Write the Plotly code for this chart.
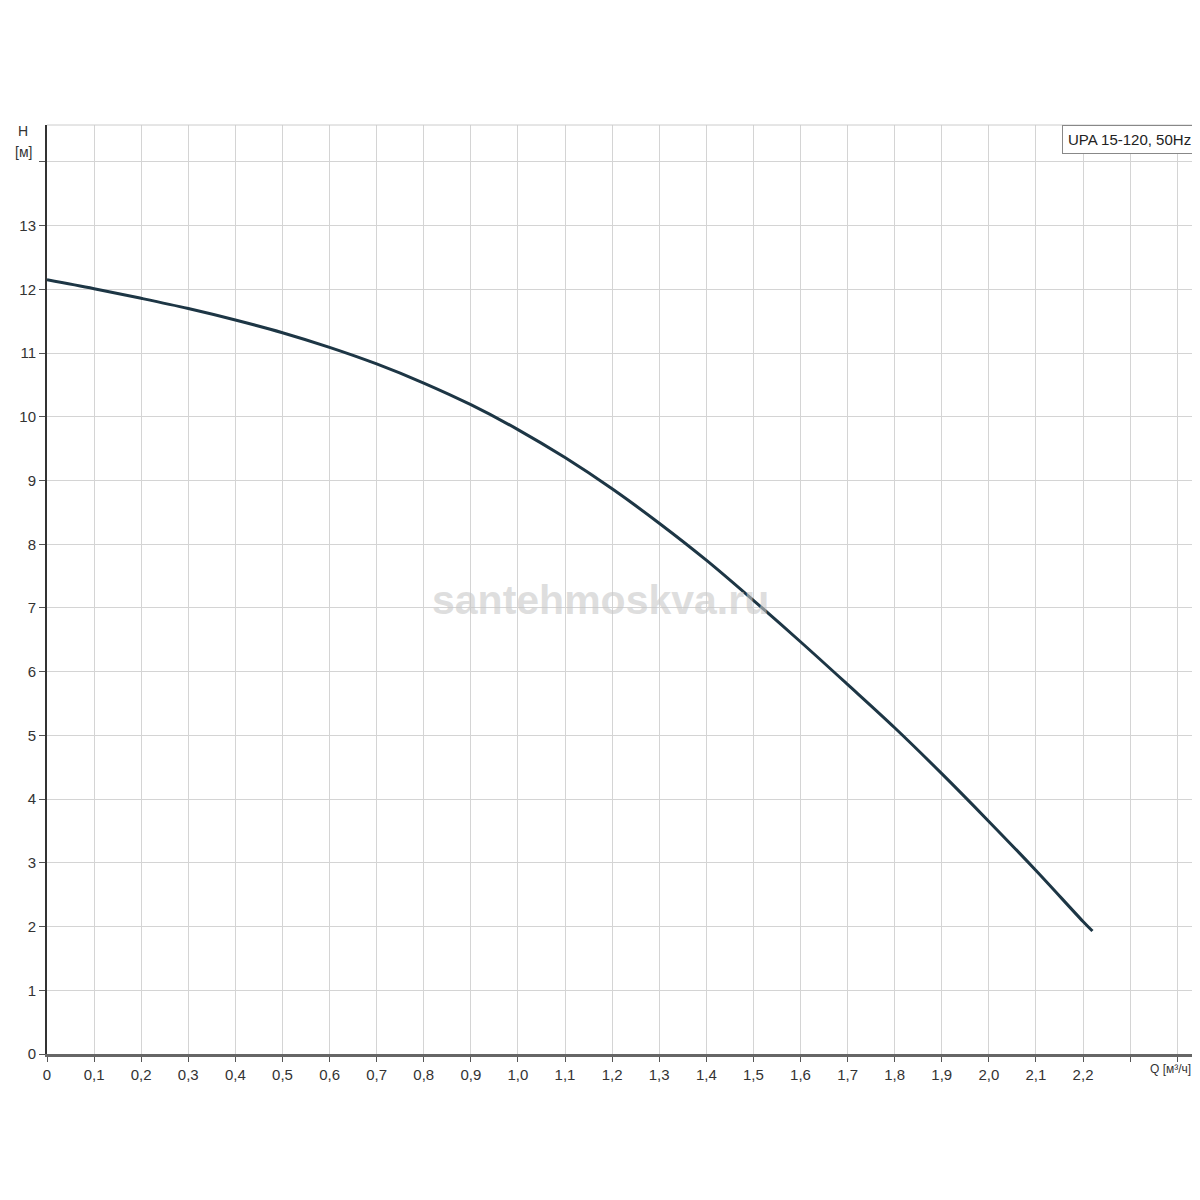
import plotly.graph_objects as go

# Pump curve UPA 15-120, 50Hz
Q = [0.0, 0.1, 0.2, 0.3, 0.4, 0.5, 0.6, 0.7, 0.8, 0.9, 1.0, 1.1, 1.2, 1.3, 1.4,
     1.5, 1.6, 1.7, 1.8, 1.9, 2.0, 2.1, 2.2, 2.22]
H = [12.15, 12.01, 11.86, 11.70, 11.52, 11.32, 11.09, 10.83, 10.53, 10.19, 9.80,
     9.36, 8.87, 8.33, 7.75, 7.12, 6.47, 5.80, 5.12, 4.40, 3.65, 2.88, 2.08, 1.93]

x_tickvals = [i / 10 for i in range(0, 25)]
x_ticktext = ["0"] + [f"{v:.1f}".replace(".", ",") for v in x_tickvals[1:23]] + ["", ""]
y_tickvals = list(range(0, 15))
y_ticktext = [str(v) for v in range(0, 14)] + [""]

series_name = "UPA 15-120, 50Hz"
x_title = "Q [м³/ч]"
y_title_1 = "H"
y_title_2 = "[м]"
watermark = "santehmoskva.ru"

font_family = "Liberation Sans, Arial, sans-serif"

fig = go.Figure()
fig.add_trace(go.Scatter(
    x=Q, y=H, mode="lines", line=dict(color="#1d3645", width=3, shape="spline", smoothing=1.0),
    name=series_name, showlegend=False, hoverinfo="skip"))

fig.update_layout(
    width=1200, height=1200,
    margin=dict(l=39, r=11, t=117, b=154),
    paper_bgcolor="white", plot_bgcolor="white",
    font=dict(family=font_family, size=15, color="#333333"),
    showlegend=False,
)
fig.update_xaxes(
    range=[0, 2.442], tickvals=x_tickvals, ticktext=x_ticktext,
    showgrid=True, gridcolor="#d4d4d4", gridwidth=1,
    showline=True, linecolor="#666666", linewidth=3,
    ticks="outside", ticklen=5, tickcolor="#555555", tickwidth=1,
    tickfont=dict(size=15, color="#333333"), zeroline=False, fixedrange=True,
)
fig.update_yaxes(
    range=[0, 14.58], tickvals=y_tickvals, ticktext=y_ticktext,
    showgrid=True, gridcolor="#d4d4d4", gridwidth=1,
    showline=True, linecolor="#333333", linewidth=2,
    ticks="outside", ticklen=6, tickcolor="#555555", tickwidth=1,
    tickfont=dict(size=15, color="#333333"), zeroline=False, fixedrange=True,
)

# top and right frame
fig.add_shape(type="line", xref="paper", yref="paper", x0=0, x1=1, y0=1, y1=1,
              line=dict(color="#cccccc", width=1))
fig.add_shape(type="line", xref="paper", yref="paper", x0=1, x1=1, y0=0, y1=1,
              line=dict(color="#cccccc", width=1))

# legend box
fig.add_annotation(xref="paper", yref="paper", x=1, y=1, xanchor="right", yanchor="top",
                   text=series_name, showarrow=False, bgcolor="white",
                   bordercolor="#888888", borderwidth=1, borderpad=5,
                   font=dict(size=15, color="#222222"))

# axis titles
fig.add_annotation(xref="paper", yref="paper", x=1, y=0, xanchor="right", yanchor="top",
                   xshift=-4, yshift=-6, text=x_title, showarrow=False,
                   font=dict(size=12, color="#333333"))
fig.add_annotation(xref="paper", yref="paper", x=0, y=1, xanchor="right", yanchor="middle",
                   xshift=-17, yshift=-6, text=y_title_1, showarrow=False,
                   font=dict(size=14, color="#333333"))
fig.add_annotation(xref="paper", yref="paper", x=0, y=1, xanchor="right", yanchor="middle",
                   xshift=-13, yshift=-27, text=y_title_2, showarrow=False,
                   font=dict(size=14, color="#333333"))

# watermark
fig.add_annotation(xref="paper", yref="paper", x=0.481, y=0.489, xanchor="center", yanchor="middle",
                   text="<b>" + watermark + "</b>", showarrow=False,
                   font=dict(size=41, color="rgba(200,200,200,0.6)", family="Liberation Sans, Arial, sans-serif"))

fig.write_html("out.html")
